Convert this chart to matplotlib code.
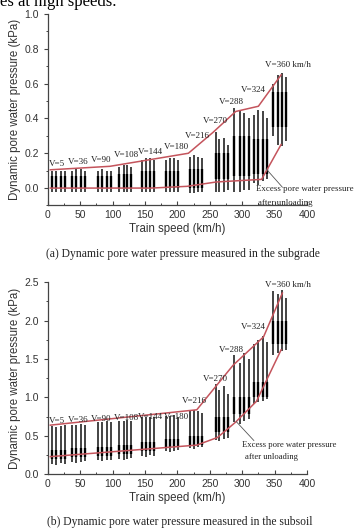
import matplotlib
matplotlib.use("Agg")
import matplotlib.pyplot as plt
from matplotlib.ticker import MultipleLocator

plt.rcParams['font.family'] = ['Liberation Sans', 'DejaVu Sans']

# speed groups and spike positions (km/h on the x axis)
speeds = [5, 36, 90, 108, 144, 180, 216, 270, 288, 324, 360]
spike_x = [
    [6, 13, 20, 26], [37, 44, 51, 57], [77, 84, 91, 97], [110, 117, 123, 129],
    [146, 152, 158, 164], [183, 189, 195, 201], [219, 226, 232, 238],
    [259, 265, 272, 278], [288, 296, 303, 310], [318, 325, 332, 339],
    [348, 355, 362, 368],
]

# (a) subgrade: spike peaks / troughs and dense core band per group
a_top = [
    [.10, .10, .10, .10], [.10, .11, .11, .10], [.10, .11, .10, .10], [.12, .13, .13, .12],
    [.16, .17, .17, .16], [.16, .17, .17, .16], [.18, .19, .18, .17],
    [.32, .28, .29, .25], [.46, .44, .43, .40], [.42, .45, .44, .40], [.60, .65, .66, .64],
]
a_bot = [
    [-.02, -.02, -.02, -.02], [-.02, -.02, -.02, -.02], [-.02, -.02, -.02, -.02],
    [-.02, -.02, -.02, -.02], [-.02, -.02, -.02, -.02], [-.02, -.02, -.02, -.02],
    [-.03, -.03, -.02, -.02], [-.02, -.02, -.02, -.01], [-.02, -.02, -.01, -.01],
    [.03, .02, .04, .05], [.30, .25, .24, .27],
]
a_core_lo = [0.0, 0.0, 0.0, 0.0, 0.0, 0.0, 0.0, 0.05, 0.07, 0.08, 0.35]
a_core_hi = [0.07, 0.07, 0.07, 0.08, 0.10, 0.10, 0.11, 0.20, 0.30, 0.28, 0.55]
a_upper_x = [4, 96, 217, 255, 290, 325, 360]
a_upper_y = [0.105, 0.125, 0.20, 0.32, 0.44, 0.47, 0.65]
a_lower_x = [4, 160, 215, 260, 330, 360]
a_lower_y = [0.0, 0.0, 0.01, 0.035, 0.05, 0.25]
a_label_x = [15, 47, 83, 122, 159, 198, 231, 259, 284, 317, 371]
a_label_y = [0.14, 0.148, 0.16, 0.19, 0.21, 0.237, 0.30, 0.387, 0.496, 0.563, 0.707]

# (b) subsoil
b_top = [
    [.63, .62, .63, .64], [.64, .64, .65, .64], [.68, .68, .69, .68], [.69, .70, .71, .70],
    [.74, .75, .75, .74], [.76, .76, .77, .75], [.82, .84, .83, .80],
    [1.17, 1.10, 1.15, 1.05], [1.55, 1.45, 1.58, 1.50], [1.70, 1.75, 1.80, 1.72],
    [2.38, 2.35, 2.40, 2.30],
]
b_bot = [
    [.13, .12, .15, .14], [.16, .15, .16, .17], [.18, .17, .18, .19], [.20, .19, .20, .21],
    [.24, .23, .25, .24], [.30, .29, .30, .31], [.34, .33, .35, .36],
    [.45, .44, .46, .47], [.68, .66, .70, .72], [.92, .94, .96, .98], [1.55, 1.58, 1.60, 1.62],
]
b_core_lo = [0.20, 0.22, 0.24, 0.26, 0.30, 0.35, 0.38, 0.55, 0.78, 1.00, 1.70]
b_core_hi = [0.32, 0.34, 0.36, 0.38, 0.42, 0.46, 0.50, 0.75, 1.00, 1.20, 2.00]
b_upper_x = [4, 230, 255, 286, 333, 362]
b_upper_y = [0.64, 0.84, 1.10, 1.42, 1.79, 2.36]
b_lower_x = [4, 230, 262, 290, 322, 360]
b_lower_y = [0.23, 0.38, 0.48, 0.68, 0.95, 1.62]
b_label_x = [15, 47, 83, 122, 159, 198, 226, 259, 284, 317, 371]
b_label_y = [0.70, 0.71, 0.72, 0.73, 0.74, 0.75, 0.96, 1.24, 1.62, 1.92, 2.46]

RED = '#c4545c'
SERIF = ['Liberation Serif', 'DejaVu Serif']

fig = plt.figure(figsize=(3.55, 5.30), dpi=100)
fig.text(0.0, 1 - 6.5 / 530, 'es at high speeds.', family=SERIF, fontsize=12,
         va='baseline', ha='left')


def draw_panel(ax, top, bot, core_lo, core_hi, ux, uy, lx, ly, lab_x, lab_y):
    for i in range(len(speeds)):
        ax.vlines(spike_x[i], bot[i], top[i], color='#111111', lw=1.1, zorder=2)
        ax.vlines(spike_x[i], core_lo[i], core_hi[i], color='black', lw=1.7, zorder=2)
    ax.plot(ux, uy, color=RED, lw=1.1, zorder=3)
    ax.plot(lx, ly, color=RED, lw=1.1, zorder=3)
    for i, v in enumerate(speeds):
        txt = 'V=%d' % v if v != 360 else 'V=360 km/h'
        ax.text(lab_x[i], lab_y[i], txt, family=SERIF, fontsize=6.5,
                ha='center', va='center', color='#222222')
    ax.set_xlim(0, 400)
    ax.xaxis.set_major_locator(MultipleLocator(50))
    ax.xaxis.set_minor_locator(MultipleLocator(25))
    for s in ['top', 'right']:
        ax.spines[s].set_visible(False)
    for s in ['left', 'bottom']:
        ax.spines[s].set_color('#444444')
        ax.spines[s].set_linewidth(0.9)
    ax.tick_params(axis='both', which='major', labelsize=7.5, colors='#444444',
                   labelcolor='#333333', length=3, width=0.8)
    ax.tick_params(axis='both', which='minor', length=1.8, width=0.7, colors='#444444')
    ax.tick_params(axis='x', which='both', direction='in')
    ax.tick_params(axis='y', which='both', direction='out')
    ax.set_xlabel('Train speed (km/h)', fontsize=8.3, color='#333333', labelpad=2)
    ax.set_ylabel('Dynamic pore water pressure (kPa)', fontsize=8.3, color='#333333',
                  labelpad=2)


ax1 = fig.add_axes([0.1344, 0.6123, 0.7304, 0.3613])
draw_panel(ax1, a_top, a_bot, a_core_lo, a_core_hi, a_upper_x, a_upper_y,
           a_lower_x, a_lower_y, a_label_x, a_label_y)
ax1.set_ylim(-0.1, 1.0)
ax1.yaxis.set_major_locator(MultipleLocator(0.2))
ax1.yaxis.set_minor_locator(MultipleLocator(0.1))
ax1.set_yticks([0.0, 0.2, 0.4, 0.6, 0.8, 1.0])
ax1.plot([337, 362], [0.11, 0.005], color='#555555', lw=0.6, zorder=3)
ax1.text(321, -0.005, 'Excess pore water pressure', family=SERIF, fontsize=6.4,
         ha='left', va='center', color='#222222', clip_on=False)
ax1.text(324, -0.085, 'after unloading', family=SERIF, fontsize=6.4,
         ha='left', va='center', color='#222222', clip_on=False)

ax2 = fig.add_axes([0.1344, 0.1051, 0.7304, 0.3623])
draw_panel(ax2, b_top, b_bot, b_core_lo, b_core_hi, b_upper_x, b_upper_y,
           b_lower_x, b_lower_y, b_label_x, b_label_y)
ax2.set_ylim(0, 2.5)
ax2.yaxis.set_major_locator(MultipleLocator(0.5))
ax2.yaxis.set_minor_locator(MultipleLocator(0.25))
ax2.plot([291, 318], [0.685, 0.44], color='#555555', lw=0.6, zorder=3)
ax2.text(299, 0.38, 'Excess pore water pressure', family=SERIF, fontsize=6.2,
         ha='left', va='center', color='#222222', clip_on=False)
ax2.text(304, 0.22, 'after unloading', family=SERIF, fontsize=6.2,
         ha='left', va='center', color='#222222', clip_on=False)

fig.text(0.514, 0.521, '(a) Dynamic pore water pressure measured in the subgrade',
         family=SERIF, fontsize=8.4, ha='center', va='center', color='#222222')
fig.text(0.505, 0.015, '(b) Dynamic pore water pressure measured in the subsoil',
         family=SERIF, fontsize=8.4, ha='center', va='center', color='#222222')

fig.savefig('out.png', dpi=100)
